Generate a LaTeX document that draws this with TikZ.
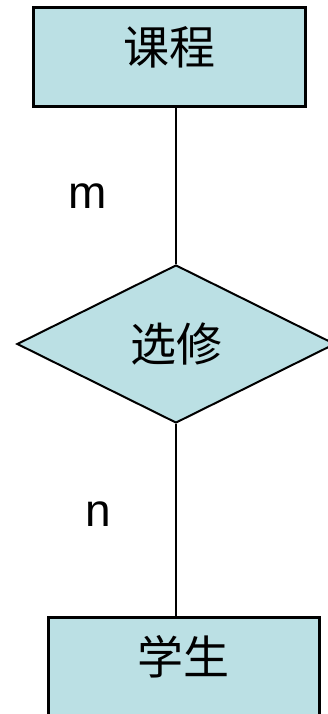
\documentclass[tikz,border=0pt]{standalone}
\usepackage{fontspec}
\setmainfont{Liberation Sans}
\newfontfamily\cjk{Noto Sans CJK SC}
\usetikzlibrary{shapes.geometric, calc}
\definecolor{erfill}{RGB}{187,224,228}

\begin{document}
\begin{tikzpicture}[x=1pt, y=-1pt,
        entity/.style={draw, line width=3pt, fill=erfill, rectangle, inner sep=0pt,
            minimum width=272pt, minimum height=99pt,
            font=\cjk\fontsize{46}{50}\selectfont, text height=40pt, text depth=25pt},
        relation/.style={draw, line width=2pt, fill=erfill, diamond, inner sep=0pt,
            minimum width=318pt, minimum height=158pt,
            font=\cjk\fontsize{46}{50}\selectfont},
        card/.style={font=\fontsize{46}{50}\selectfont, inner sep=0pt}
    ]
        % Frame of the page (pixel units, y downwards)
        \useasboundingbox (0,0) rectangle (327,714);

        % Entities and the relationship
        \node[entity]   (course) at (169, 57.5)  {课程};   % top entity
        \node[relation] (choose) at (176, 344)   {选修};   % relationship
        \node[entity, minimum width=271pt] (student) at (183.5, 666.5) {学生}; % bottom entity

        % Connectors
        \draw[line width=2pt] (choose.north) -- (choose.north |- course.south);
        \draw[line width=2pt] (choose.south) -- (choose.south |- student.north);

        % Cardinalities
        \node[card] (cardM) at (88, 196) {m};
        \node[card] (cardN) at (98, 514) {n};
    \end{tikzpicture}
\end{document}
